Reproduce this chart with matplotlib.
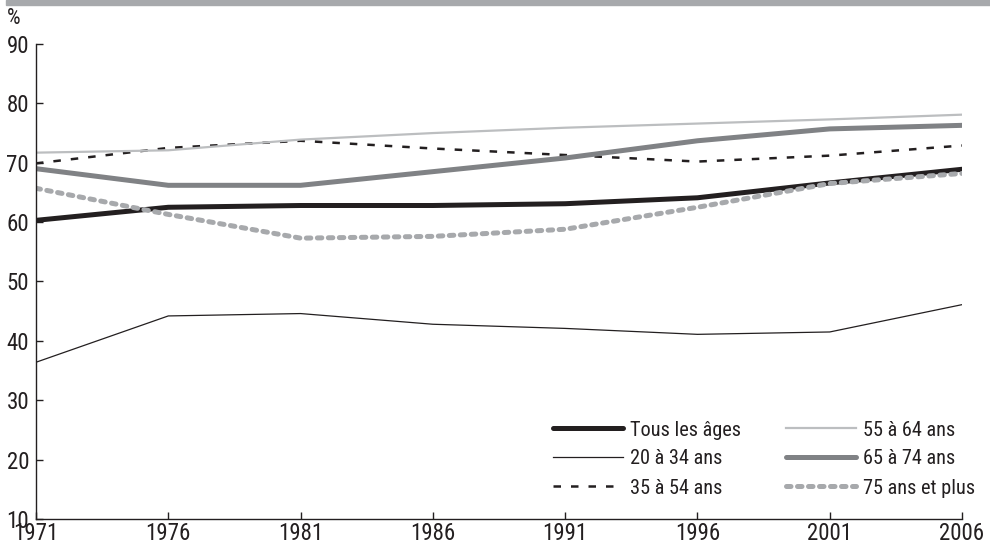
import matplotlib
matplotlib.use("Agg")
import matplotlib.pyplot as plt
from matplotlib.patches import Rectangle

years = [1971, 1976, 1981, 1986, 1991, 1996, 2001, 2006]
tous = [60.3, 62.5, 62.8, 62.8, 63.1, 64.1, 66.6, 68.9]
a20_34 = [36.4, 44.2, 44.6, 42.8, 42.1, 41.1, 41.5, 46.1]
a35_54 = [69.9, 72.5, 73.7, 72.4, 71.3, 70.2, 71.2, 72.9]
a55_64 = [71.7, 72.1, 73.9, 75.0, 75.9, 76.6, 77.3, 78.1]
a65_74 = [69.0, 66.2, 66.2, 68.5, 70.8, 73.7, 75.7, 76.3]
a75p = [65.7, 61.3, 57.3, 57.6, 58.8, 62.5, 66.5, 68.2]
yticks = [10, 20, 30, 40, 50, 60, 70, 80, 90]

plt.rcParams['font.family'] = ['Roboto Condensed', 'Archivo Narrow', 'DejaVu Sans']
plt.rcParams['font.size'] = 13
txtc = '#231f20'

W, H = 990, 546
fig = plt.figure(figsize=(W / 100, H / 100), dpi=100)
ax = fig.add_axes([36/W, 1-519/H, (962-36)/W, (519-44)/H])

fig.patches.append(Rectangle((6/W, 1-5/H), 1, 5/H, transform=fig.transFigure,
                             color='#a7a9ac', zorder=0))

ax.plot(years, tous, color='#231f20', lw=3.6, solid_capstyle='round', label='Tous les âges')
ax.plot(years, a20_34, color='#231f20', lw=0.9, label='20 à 34 ans')
ax.plot(years, a35_54, color='#231f20', lw=1.8, dashes=(3, 4), label='35 à 54 ans')
ax.plot(years, a55_64, color='#bcbec0', lw=1.6, label='55 à 64 ans')
ax.plot(years, a65_74, color='#808285', lw=3.6, solid_capstyle='round', label='65 à 74 ans')
ax.plot(years, a75p, color='#a7a9ac', lw=3.6, dashes=(0.9, 1.3), dash_capstyle='round',
        label='75 ans et plus')

ax.set_xlim(1971, 2006)
ax.set_ylim(10, 90)
ax.set_xticks(years)
ax.set_yticks(yticks)
for s in ['top', 'right']:
    ax.spines[s].set_visible(False)
for s in ['left', 'bottom']:
    ax.spines[s].set_color('#231f20')
    ax.spines[s].set_linewidth(1.0)
ax.tick_params(direction='in', length=5, width=1, color='#231f20', labelcolor=txtc,
               labelsize=16.5)
ax.tick_params(axis='y', pad=5)
ax.tick_params(axis='x', pad=2)

fig.text(7/W, 1-24/H, '%', fontsize=15.5, color=txtc)

handles, labels = ax.get_legend_handles_labels()

# choose legend font size so that "75 ans et plus" is ~112 px wide
fig.canvas.draw()
r = fig.canvas.get_renderer()
tmp = fig.text(0, 0, labels[-1], fontsize=15)
w = tmp.get_window_extent(r).width
tmp.remove()
fs = max(14.0, min(17.0, 15 * 112 / w))
fs_px = fs * 100 / 72


def make_leg(cs, ls, anchor):
    lg = ax.legend(handles, labels, ncol=2, frameon=False, loc='lower left',
                   bbox_to_anchor=anchor, bbox_transform=fig.transFigure,
                   handlelength=70 / fs_px, handletextpad=7 / fs_px,
                   borderpad=0, borderaxespad=0,
                   columnspacing=cs, labelspacing=ls, fontsize=fs)
    for t in lg.get_texts():
        t.set_color(txtc)
    return lg


def cy(t):
    b = t.get_window_extent(r)
    return (b.y0 + b.y1) / 2


cs, ls = 1.5, 0.4
leg = make_leg(cs, ls, (553/W, 0.1))
fig.canvas.draw()
for _ in range(2):
    ext = leg.get_window_extent(r)
    tx = leg.get_texts()
    d = cy(tx[0]) - cy(tx[1])
    ls = ls + (29 - d) / fs_px
    cs = cs + (422 - ext.width) / fs_px
    leg.remove()
    leg = make_leg(cs, ls, (553/W, 0.1))
    fig.canvas.draw()

ext = leg.get_window_extent(r)
tx = leg.get_texts()
target = H - 488
bottom = ext.y0 + (target - cy(tx[2]))
leg.remove()
leg = make_leg(cs, ls, (553/W, bottom / H))

fig.savefig('out.png', dpi=100)
